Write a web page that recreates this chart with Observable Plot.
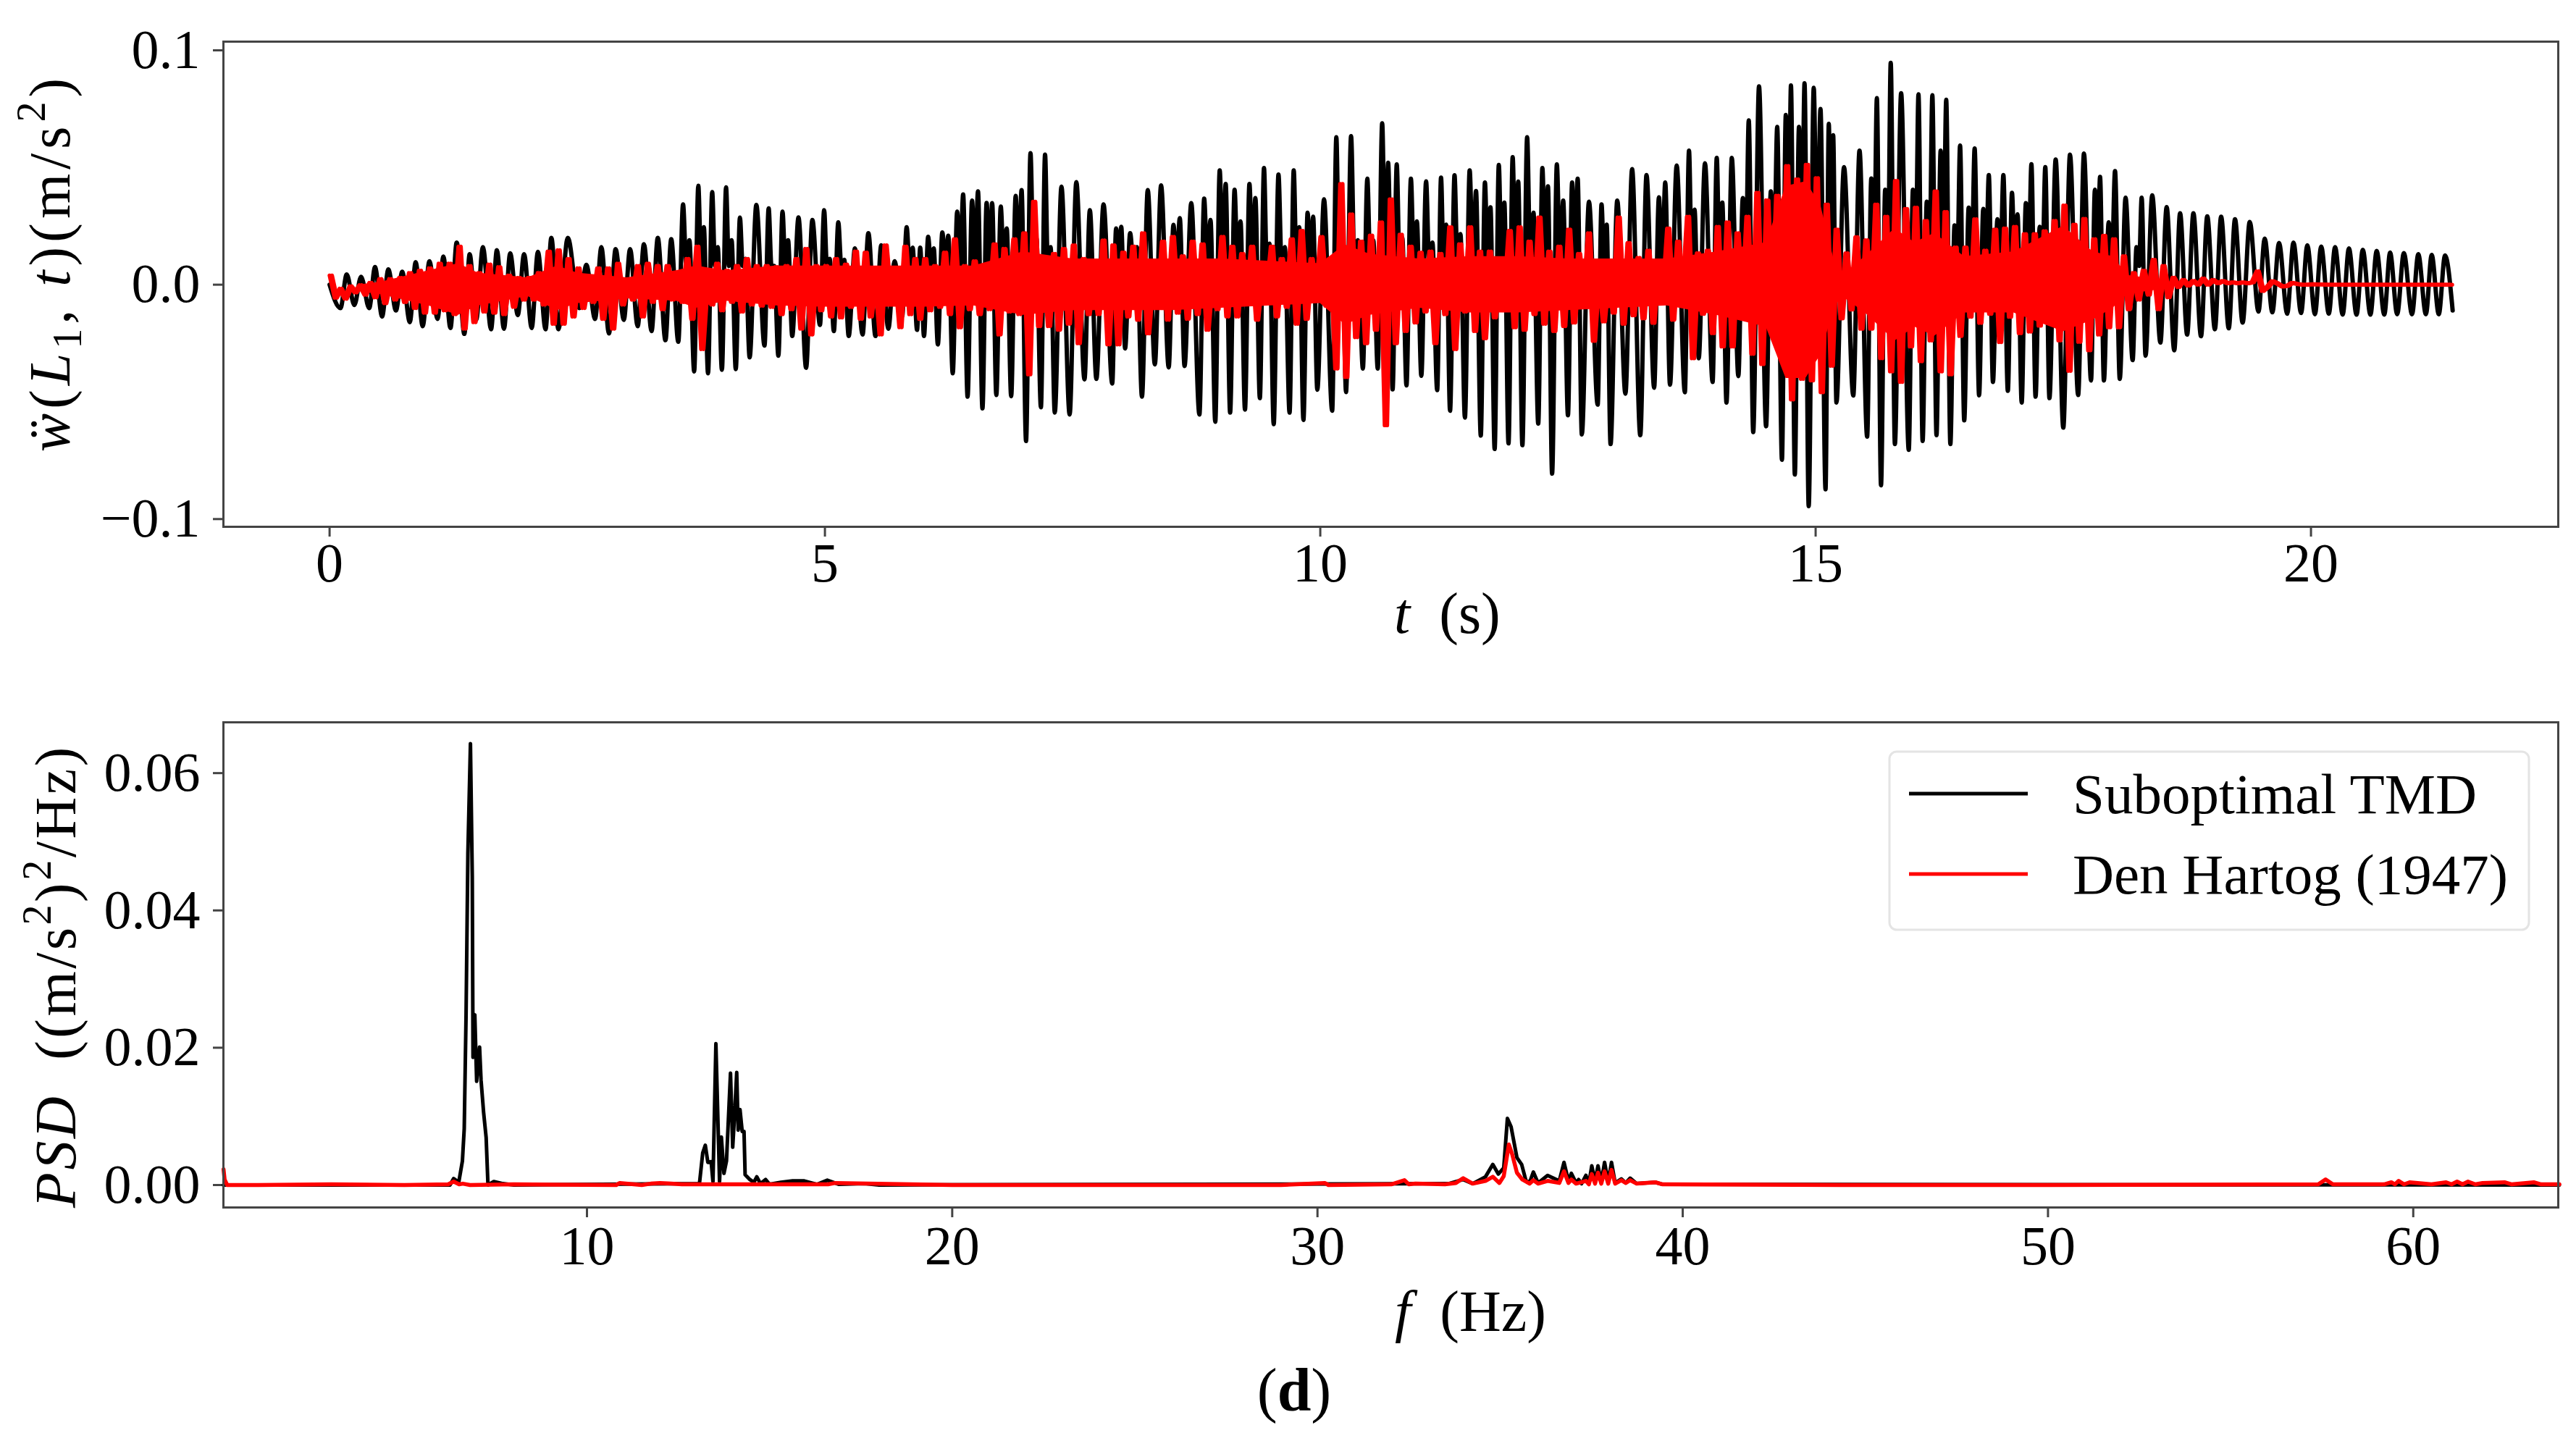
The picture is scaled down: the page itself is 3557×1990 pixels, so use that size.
<!DOCTYPE html>
<html>
<head>
<meta charset="utf-8">
<script src="https://cdn.jsdelivr.net/npm/d3@7"></script>
<script src="https://cdn.jsdelivr.net/npm/@observablehq/plot@0.6"></script>
<style>
html,body{margin:0;padding:0;background:#fff;overflow:hidden;width:3557px;height:1990px}
#root{position:relative;width:3557px;height:1990px}
#root svg{display:block;max-width:none}
#cap{position:absolute;left:1787px;top:1880px;transform:translateX(-50%);font:84px/80px "Liberation Serif",serif;color:#000;white-space:nowrap}
</style>
</head>
<body>
<div id="root"></div>
<script>
const FONT = '"Liberation Serif", "Times New Roman", serif';
const BLACK = "#000000", RED = "#ff0000", AXIS = "#444444";

// Upper panel: black curve, one entry per vibration cycle (acceleration in 1e-3 m/s^2, time in s)
const blackLowT = [
 .11,.25,.40,.53,.67,.81,.94,1.09,1.22,1.36,1.48,1.63,1.76,1.90,2.04,2.18,2.31,2.52,2.68,2.82,2.97,3.11,3.25,3.39,3.52,3.68,3.82,3.96,4.10,4.24,
 4.39,4.53,4.67,4.81,4.95,5.09,5.24,5.38,5.51,5.64,5.78,5.93,6.0,6.14,6.29,6.44,6.59,6.73,6.88,7.03,7.18,7.32,7.47,7.62,7.74,7.9,8.03,8.2,8.33,8.47,8.63,
 8.78,8.94,9.09,9.24,9.39,9.53,9.69,9.83,9.97,10.12,10.26,10.43,10.58,10.73,10.87,11.02,11.18,11.31,11.46,11.62,11.76,11.9,12.04,12.2,12.34,12.5,12.64,12.8,12.93,
 13.08,13.23,13.37,13.53,13.68,13.82,13.96,14.1,14.22,14.37,14.5,14.66,14.79,14.93,15.1,15.21,15.38,15.52,15.66,15.8,15.94,16.08,16.22,16.36,16.5,16.65,16.79,16.94,17.08,17.22,17.36,
 17.5,17.65,17.78,17.91,18.07,18.2,18.33,18.48,18.62,18.75,18.89,19.03,19.17,19.31,19.47,19.61,19.76,19.9,20.04,20.18,20.32,20.46,20.6,20.74,20.87,21.02,21.16,21.29,21.43];
const blackLow = [
 -10,-8.7,-10,-13.6,-11,-16,-17.7,-14.6,-18.5,-21,-15,-19,-18.8,-13,-18.5,-19,-19,-10,-14.6,-20.8,-15,-17.7,-19.8,-23.7,-24.4,-37,-37.8,-36.3,-36,-31,
 -26,-30.3,-21.9,-35.5,-17.2,-19.8,-21.9,-21.3,-21.9,-18.8,-13.4,-19.3,-21.9,-25.5,-37.8,-47.8,-52.8,-47.1,-47.6,-66.7,-52.3,-54.6,-55.4,-40.4,-40.2,-42.2,-27.2,-47.8,-34,-35.3,-34.7,
 -55.4,-58.5,-54.6,-53.3,-48.4,-59.5,-54.6,-57.7,-44.8,-53.8,-45.8,-35.8,-35.8,-44.7,-43,-38.9,-45,-53.8,-56.7,-64.4,-70.1,-67.7,-68.5,-59.3,-80.6,-55.7,-63.9,-51.2,-68,
 -46.5,-64.2,-44,-42.7,-45.9,-31.4,-41.5,-50.3,-39,-62.9,-60.4,-74.7,-81,-94.5,-87.3,-50.3,-47.3,-64.8,-85.6,-68,-70.5,-66.7,-64.2,-68,-57.9,-47.2,-41.5,-45.3,-50.3,-47.8,-48.4,
 -61,-47.1,-40.9,-40.9,-40.2,-32.2,-30.3,-24.7,-28,-21.3,-22,-19,-18.6,-16.2,-11.5,-11.8,-12.4,-12.1,-12.6,-12.4,-12.8,-12.8,-12.8,-12.8,-12.6,-12.6,-12.6,-12.6,-11];
const blackPeak = [
 4.4,3.4,7.5,6.5,5.5,9.6,10,12,18,13,16,14.7,13.4,13,14,20,20,8.5,16,15.2,15.2,17.3,20,19.4,34.3,42.2,39.5,41.5,28.6,34,
 32.6,31.2,28.7,27.6,31.8,26.6,15.5,22,16.8,10,24.5,15.8,20.4,22.3,31.2,35.9,34.9,33.3,37.9,56.1,55.5,41.8,43.8,31.8,34.3,24,22,40.4,42.4,25.5,34.8,
 36.7,48.8,40.5,43,49.8,47,48.8,30.7,36.4,62.9,63.4,45.2,68.9,51.3,45.2,44.1,45.7,46.7,48.8,43.6,51.1,54.4,62.9,49.8,51.3,43.6,35.4,34.3,35.9,
 49.3,46.8,37.3,50.9,57.2,51.8,54.1,54.1,37,84.6,39.8,72.4,67.3,84,68.6,50.2,57.2,45.3,40.5,81.7,40.5,35.4,57.2,25.3,32.9,32.3,27.9,39.2,34.8,24.7,53.4,
 55.5,56,40.5,26.6,37.1,16,38.1,33.1,30.5,30.5,29.2,29,27.9,26.8,19.7,17.8,18,16.8,16.3,16,15.5,14.9,14.4,13.7,13.5,13,12.7,12.5,0];
const blackSecond = [
 0,0,0,0,0,0,0,0,0,0,0,0,0,0,0,0,0,0,0,0,0,0,0,0,19,24.5,16,19,11,0,
 8,19,0,0,11,10.6,0,0,0,0,15.8,0,15.5,20.9,38.5,39.8,34.8,24,40.4,20,16,0,0,0,0,24.7,16,0,0,28.4,0,
 27.6,43,27,37,17.5,16,24.5,29,0,30,19,19,52,20,27,18,25.6,21.6,40,33,35,44,30.7,42,35.9,45.2,0,25.6,0,
 0,0,43.6,0,32,0,35,0,70.1,0,67.3,85,85.9,75,63.8,0,0,79.6,94.7,0,81.2,80.8,78.9,59.4,58.1,46.8,46.8,30,51.4,50.2,0,
 0,0,46,48.5,0,37.1,0,0,0,0,0,0,0,0,0,0,0,0,0,0,0,0,0,0,0,0,0,0,0];
const blackMid = 8;   // level of the shallow dip between a cycle's two crests

// Upper panel: red curve, highest and lowest reading per 0.1 s (1e-3 m/s^2)
const redHigh = [
 3.9,-1.7,-.7,-.2,.8,2.4,2.4,2.9,5,6,7,9,9,16.3,8,5,8.6,7.5,3.9,2.9,2.9,5,14.2,14.7,11,7,2.9,7,7,9,1.9,8,9,8,8,5,11,16.3,5,9,6,8,11,
 8,8,7.5,8,11,15.3,8,8,11,8.6,14.2,13.7,5,16.8,7,16.3,11,11,8,13.7,19.4,8,10,5,17.3,15.3,19.4,22,35.4,11,13.2,15.3,16.8,11,8,18.9,16.8,13.7,16.3,22,7,18.4,20.4,12.2,
 18.4,17.3,7,20.4,16.3,13.2,16.3,5,16.3,11,19.4,23,11,20.4,11,43,30,18.4,21,26.6,36.4,21.4,16.3,13.7,14.2,13.2,24.5,17.3,24.5,14.2,14.2,7,23,24.5,18.4,28.7,14.2,16.3,23.5,13.2,22,8,8,28.7,
 17.8,11.5,14.6,9.6,24,18.4,29,13.4,14.6,24.7,26.6,22,29,39.2,36,38,50.6,44.9,51.2,45.5,34.2,23.5,13.4,20.3,19,34.2,29,44.3,32.3,32.9,27.2,39.8,31,15.9,15.9,27.9,14.6,23.5,24,24.7,21.6,21.6,22.8,27.2,
 33.8,25.6,28.1,19.4,20.9,19.4,12.2,5,6,10.6,8,3,2,1.6,2.6,2,1.6,1,1,1,-2.7,1.5,-.8,.8,0,.2,.1,0,0,0,0,0,0,0,0,0,0,0,0,0];
const redLow = [
 -5.6,-6,-3.3,-4.3,-5.4,-7.9,-6.4,-7.4,-10,-12,-12,-11,-12.6,-18.8,-16,-11.5,-12,-12.6,-9.5,-6.4,-6.4,-8.5,-16.7,-16.7,-13.6,-10,-7.4,-14.6,-18.8,-8.5,-6.4,-13.6,-7.4,-10.5,-6.4,-7.4,-14.6,-27.5,-8.5,-11,-7.4,-11.5,-8.5,
 -9,-9.5,-12.6,-10.5,-18.8,-21.3,-11,-13.6,-14,-9.5,-14.6,-13.6,-21.3,-7.4,-18.2,-12.6,-14.6,-11,-9.5,-12.6,-18.2,-10.5,-12.6,-10.5,-21.3,-11.5,-12.6,-38.3,-17.7,-17.7,-19.3,-16.7,-25,-12.6,-12.6,-25.5,-25.5,-13.6,-15,-20.8,-9.5,-15,-12,-14.6,
 -12.6,-19.3,-10.5,-13.6,-13.6,-7.4,-15,-5.4,-13.6,-9.5,-16.7,-14.6,-6.4,-9,-35.8,-39.4,-22.4,-25,-19.3,-60,-25,-19.8,-16.2,-11.5,-25,-12.6,-27.5,-11.5,-19.8,-22.9,-14,-7.4,-18.2,-19.3,-12.6,-16.7,-19.8,-17.7,-16.2,-8.5,-24,-15.7,-12,-16.7,
 -13.1,-14.4,-16.3,-7.4,-15,-6.8,-31.4,-12.5,-20.7,-26.4,-26.4,-14.4,-29.5,-33.9,-19.4,-24.5,-49,-40.2,-40.9,-45.9,-34.6,-14.4,-10.6,-18.8,-18.8,-31.4,-37,-41.5,-26.4,-32.7,-23.8,-37,-38.3,-21.9,-13.7,-16.3,-12.5,-24.5,-13.7,-20.7,-20,-17.5,-16.3,-23.8,
 -36.8,-24.4,-28,-21.3,-18.2,-18.2,-10.5,-6.4,-4.3,-10.5,-5.4,-1,-.4,0,0,.6,.6,.6,.6,5.7,-1,.5,-.5,.3,0,.1,0,0,0,0,0,0,0,0,0,0,0,0,0,0];

// Upper panel: the solid core of the red trace, where its oscillations merge (1e-3 m/s^2)
const redCoreT = [.3,.5,1,1.3,1.5,2,2.3,2.5,3,3.5,3.7,4,4.5,5,5.5,6,6.5,7,7.5,8,8.5,9,9.5,10,10.25,10.5,11,11.5,12,12.5,13,13.5,14,14.5,14.7,14.9,15.05,15.2,15.3,15.5,15.8,16,16.2,16.5,17,17.5,17.8,18,18.15,18.5,18.6];
const redCoreHigh = [0,1,6,9,5,3,8,5,3,6,8,6,8,8,8,8,8,14,11,11,11,11,10,9,17,13,11,12,12,11,11,11,14,18,42,44,34,8,5,12,24,18,22,12,14,25,14,12,4,2,1];
const redCoreLow = [-3,-4,-9,-13,-9,-5,-11,-8,-6,-7,-10,-7,-9,-9.5,-9.5,-9.5,-9,-13,-11,-11,-11,-10,-9,-8,-17,-13,-10,-12,-12,-11,-10,-9,-13,-18,-40,-40,-30,-8,-6,-12,-24,-18,-22,-12,-12,-20,-15,-10,-4,-2,0];

// Lower panel: spectra (frequency in Hz, PSD in (m/s^2)^2/Hz)
const psdBlackF = [.05,6.25,6.35,6.49,6.59,6.64,6.69,6.74,6.81,6.86,6.88,6.93,6.98,7.06,7.1,7.17,7.24,7.29,7.45,7.7,8,13.08,13.17,13.24,13.31,13.4,13.45,13.53,13.63,13.68,13.75,13.82,13.93,13.99,14.04,14.1,14.14,14.19,14.25,14.3,14.33,14.46,14.57,14.65,14.75,14.89,15,15.31,15.63,15.95,16.3,16.58,16.9,17.6,18,33.59,33.99,34.25,34.6,34.8,34.95,35.1,35.2,35.3,35.46,35.59,35.71,35.81,35.91,36.04,36.3,36.62,36.75,36.87,36.95,37.08,37.15,37.23,37.35,37.43,37.51,37.6,37.68,37.77,37.86,37.96,38.05,38.15,38.32,38.44,38.56,38.74,39.25,39.45,64];
const psdBlackV = [0,0,.00094,.0004,.0035,.0082,.0247,.0483,.0643,.045,.0186,.0248,.0151,.0201,.0153,.0106,.0069,0,.0005,.0002,0,.0002,.0047,.0058,.0033,.0034,.0005,.0206,.0005,.007,.0017,.0035,.0163,.0055,.01,.0164,.008,.011,.0078,.0078,.0015,.0008,.0004,.0012,.0002,.0008,.0001,.0004,.0006,.0006,.0001,.0007,.0001,.0002,0,.0002,.0008,.0002,.0012,.003,.0016,.0025,.0097,.0085,.004,.003,.0006,.0004,.0019,.0003,.0014,.0006,.0033,.0006,.0017,.0003,.0008,.0002,.0014,.0002,.0028,.0005,.0028,.0004,.0033,.0004,.0033,.0003,.0009,.0003,.001,.0002,.0004,.0001,0];
const psdRedF = [.05,.08,.15,1,3,5,6.2,6.35,6.5,6.6,6.8,8,10.8,10.9,11.5,11.75,12,12.3,12.6,13,16.6,16.8,20,25,29,30.2,30.3,32.02,32.38,32.5,32.68,33.49,33.79,33.99,34.25,34.6,34.8,34.98,35.1,35.24,35.33,35.46,35.61,35.81,35.91,36.04,36.3,36.62,36.75,36.87,36.95,37.08,37.35,37.43,37.51,37.6,37.68,37.77,37.86,37.96,38.05,38.15,38.32,38.44,38.56,38.74,39.25,39.45,45,50,57.4,57.6,57.8,59.2,59.4,59.5,59.6,59.75,59.9,60.5,60.9,61.05,61.2,61.35,61.5,61.7,61.9,62.5,62.7,63.3,63.5,64];
const psdRedV = [.0023,.0008,0,0,.0001,0,.0001,.0005,.0001,.0002,0,.0001,0,.0003,0,.0002,.0003,.0002,.0001,.0001,.0001,.0003,0,0,0,.0003,0,.0001,.0007,.0001,.0002,.0001,.0003,.001,.0002,.0006,.0012,.0003,.0013,.0059,.0045,.0018,.0008,.0002,.0007,.0002,.0006,.0003,.002,.0003,.0008,.0002,.0006,.0001,.0016,.0002,.0018,.0002,.002,.0002,.0022,.0002,.0007,.0003,.0007,.0002,.0004,.0001,0,0,.0001,.0008,.0001,.0001,.0004,.0001,.0006,.0001,.0004,.0001,.0004,.0001,.0005,.0001,.0005,.0001,.0003,.0004,.0001,.0004,.0001,.0001];

// Text and ticks
const timeTicks = [0, 5, 10, 15, 20];
const accelTicks = [-0.1, 0, 0.1];
const freqTicks = [10, 20, 30, 40, 50, 60];
const psdTicks = [0, 0.02, 0.04, 0.06];
const seriesNames = ["Suboptimal TMD", "Den Hartog (1947)"];
const caption = "d";

// Tables built from the lists above
const blackCurve = [{t: 0, v: 0}];
blackLowT.forEach((t, i) => {
  blackCurve.push({t, v: blackLow[i] / 1000});
  if (i === blackLowT.length - 1) return;
  const g = blackLowT[i + 1] - t;
  if (blackSecond[i]) {
    blackCurve.push({t: t + .3 * g, v: blackPeak[i] / 1000});
    blackCurve.push({t: t + .5 * g, v: blackMid / 1000});
    blackCurve.push({t: t + .7 * g, v: blackSecond[i] / 1000});
  } else {
    blackCurve.push({t: t + .45 * g, v: blackPeak[i] / 1000});
  }
});
const redCurve = [];
redHigh.forEach((h, i) => {
  redCurve.push({t: i / 10, v: h / 1000});
  if (i < redHigh.length - 1) redCurve.push({t: i / 10 + .05, v: redLow[i] / 1000});
});
const redCore = redCoreT.map((t, i) => ({t, hi: redCoreHigh[i] / 1000, lo: redCoreLow[i] / 1000}));
const psdBlack = psdBlackF.map((f, i) => ({f, v: psdBlackV[i]}));
const psdRed = psdRedF.map((f, i) => ({f, v: psdRedV[i]}));

function rich(svg, o) {
  const s = d3.select(svg).append("text")
    .attr("transform", `translate(${o.x},${o.y}) rotate(${o.rotate || 0})`)
    .attr("text-anchor", o.anchor || "middle")
    .attr("font-family", FONT).attr("font-size", o.size).attr("fill", "#000")
    .attr("letter-spacing", o.spacing || 0)
    .style("white-space", "pre");
  let shift = 0;
  for (const r of o.runs) {
    const want = r.up ? -0.42 * o.size : r.down ? 0.2 * o.size : 0;
    s.append("tspan")
      .attr("dy", want - shift)
      .attr("font-style", r.i ? "italic" : "normal")
      .attr("font-size", (r.up || r.down) ? o.size * .7 : o.size)
      .text(r.t);
    shift = want;
  }
}

const axisCommon = {stroke: AXIS, strokeWidth: 3, fontSize: 76, fontFamily: FONT, label: null, tickSize: 14};

const top1 = Plot.plot({
  width: 3557, height: 900,
  marginLeft: 308, marginRight: 25, marginTop: 57, marginBottom: 173,
  style: {fontFamily: FONT, background: "#fff", color: "#000"},
  x: {domain: [-1.0716, 22.496]},
  y: {domain: [-0.1033, 0.1037]},
  marks: [
    Plot.axisX({...axisCommon, ticks: timeTicks, tickFormat: d3.format("d"), tickPadding: 8}),
    Plot.axisY({...axisCommon, ticks: accelTicks, tickFormat: d3.format(".1f"), tickPadding: 18}),
    Plot.line(blackCurve, {x: "t", y: "v", stroke: BLACK, strokeWidth: 6, curve: "monotone-x", strokeLinejoin: "round"}),
    Plot.areaY(redCore, {x: "t", y1: "lo", y2: "hi", fill: RED}),
    Plot.line(redCurve, {x: "t", y: "v", stroke: RED, strokeWidth: 5.5, strokeLinejoin: "round"}),
    Plot.line(redCurve, {x: "t", y: "v", stroke: RED, strokeWidth: 5.5, strokeLinejoin: "round", dx: 3.4}),
    Plot.frame({stroke: AXIS, strokeWidth: 3})
  ]
});

const bottom1 = Plot.plot({
  width: 3557, height: 960,
  marginLeft: 308, marginRight: 25, marginTop: 97, marginBottom: 193,
  style: {fontFamily: FONT, background: "#fff", color: "#000"},
  x: {domain: [0.047, 63.97]},
  y: {domain: [-0.00327, 0.0674]},
  marks: [
    Plot.axisX({...axisCommon, ticks: freqTicks, tickFormat: d3.format("d"), tickPadding: 11}),
    Plot.axisY({...axisCommon, ticks: psdTicks, tickFormat: d3.format(".2f"), tickPadding: 18}),
    Plot.line(psdBlack, {x: "f", y: "v", stroke: BLACK, strokeWidth: 5, strokeLinejoin: "round"}),
    Plot.line(psdRed, {x: "f", y: "v", stroke: RED, strokeWidth: 5.5, strokeLinejoin: "round"}),
    Plot.frame({stroke: AXIS, strokeWidth: 3})
  ]
});

// Axis titles with mathematical styling
rich(top1, {x: 96, y: 363, rotate: -90, size: 80, spacing: 6, runs: [
  {t: "\u1E85", i: 1}, {t: "("}, {t: "L", i: 1}, {t: "1", down: 1}, {t: ", "}, {t: "t", i: 1},
  {t: ")(m/s"}, {t: "2", up: 1}, {t: ")"}]});
rich(top1, {x: 1925, y: 874, anchor: "start", size: 80, runs: [{t: "t", i: 1}, {t: "\u00A0\u00A0(s)"}]});
rich(bottom1, {x: 104, y: 448, rotate: -90, size: 80, spacing: 3.5, runs: [
  {t: "PSD", i: 1}, {t: "\u00A0\u00A0((m/s"}, {t: "2", up: 1}, {t: ")"}, {t: "2", up: 1}, {t: "/Hz)"}]});
rich(bottom1, {x: 1926, y: 938, anchor: "start", size: 80, runs: [{t: "f", i: 1}, {t: "\u00A0\u00A0(Hz)"}]});

// Legend inside the lower panel
const lg = d3.select(bottom1).append("g");
lg.append("rect").attr("x", 2609).attr("y", 138).attr("width", 883).attr("height", 246)
  .attr("rx", 10).attr("fill", "#fff").attr("fill-opacity", .8).attr("stroke", "#e4e4e4").attr("stroke-width", 3);
[[BLACK, 196, 223], [RED, 307, 334]].forEach(([c, ly, by], i) => {
  lg.append("line").attr("x1", 2636).attr("x2", 2800).attr("y1", ly).attr("y2", ly).attr("stroke", c).attr("stroke-width", 5);
  lg.append("text").attr("x", 2862).attr("y", by).attr("text-anchor", "start").attr("font-family", FONT).attr("font-size", 79).attr("fill", "#000").text(seriesNames[i]);
});

const root = document.getElementById("root");
root.append(top1, bottom1);
const cap = document.createElement("div");
cap.id = "cap";
cap.innerHTML = "(<b></b>)";
cap.querySelector("b").textContent = caption;
root.append(cap);
</script>
</body>
</html>
